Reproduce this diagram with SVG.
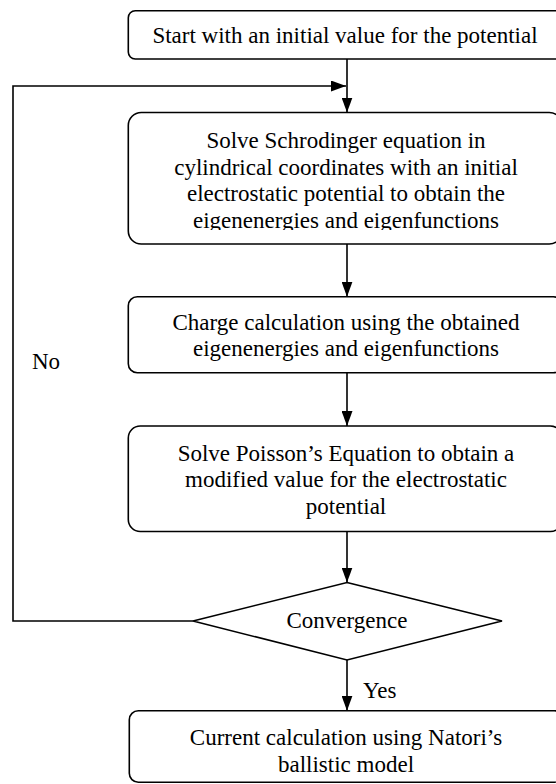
<svg xmlns="http://www.w3.org/2000/svg" width="556" height="784" viewBox="0 0 556 784">
<style>
.box{fill:#fff;stroke:#000;stroke-width:1.6}
.t{font-family:"Liberation Serif","Times New Roman",serif;font-size:23px;fill:#000;text-anchor:middle}
.tl{font-family:"Liberation Serif","Times New Roman",serif;font-size:23px;fill:#000}
.c{fill:none;stroke:#000;stroke-width:1.6}
</style>
<defs>
<marker id="ah" markerWidth="15" markerHeight="11" refX="15" refY="5.5" orient="auto" markerUnits="userSpaceOnUse">
<path d="M0,0 L15,5.5 L0,11 Z" fill="#000"/>
</marker>
<clipPath id="clipS"><rect x="128" y="112" width="440" height="118"/></clipPath>
</defs>
<rect width="556" height="784" fill="#fff"/>
<g id="connectors">
<line class="c" x1="347" y1="59" x2="347" y2="112.5" marker-end="url(#ah)"/>
<polyline class="c" points="193,621 13,621 13,86 346,86" marker-end="url(#ah)"/>
<line class="c" x1="347" y1="244" x2="347" y2="296.7" marker-end="url(#ah)"/>
<line class="c" x1="347" y1="372.7" x2="347" y2="426" marker-end="url(#ah)"/>
<line class="c" x1="347" y1="531.5" x2="347" y2="582.5" marker-end="url(#ah)"/>
<line class="c" x1="347" y1="660" x2="347" y2="710.7" marker-end="url(#ah)"/>
<text class="tl" x="32" y="369">No</text>
<text class="tl" x="363" y="698">Yes</text>
</g>
<g id="start">
<rect class="box" x="128.3" y="10.7" width="440" height="48.3" rx="7"/>
<text class="t" x="345" y="43">Start with an initial value for the potential</text>
</g>
<g id="schrodinger">
<rect class="box" x="128.3" y="112.5" width="434" height="131.5" rx="13"/>
<g clip-path="url(#clipS)">
<text class="t" x="346" y="148">Solve Schrodinger equation in</text>
<text class="t" x="346" y="174.5">cylindrical coordinates with an initial</text>
<text class="t" x="346" y="201">electrostatic potential to obtain the</text>
<text class="t" x="346" y="227.5">eigenenergies and eigenfunctions</text>
</g>
</g>
<g id="charge">
<rect class="box" x="128.3" y="296.7" width="434" height="76" rx="9"/>
<text class="t" x="346" y="329.5">Charge calculation using the obtained</text>
<text class="t" x="346" y="355.5">eigenenergies and eigenfunctions</text>
</g>
<g id="poisson">
<rect class="box" x="128.3" y="426" width="434" height="105.5" rx="12"/>
<text class="t" x="346" y="460.5">Solve Poisson’s Equation to obtain a</text>
<text class="t" x="346" y="487">modified value for the electrostatic</text>
<text class="t" x="346" y="513.5">potential</text>
</g>
<g id="convergence">
<polygon class="box" points="347,582.5 502,621 347,660 193,621"/>
<text class="t" x="347" y="628">Convergence</text>
</g>
<g id="current">
<rect class="box" x="129.3" y="710.7" width="434" height="71.5" rx="9"/>
<text class="t" x="346" y="744.5">Current calculation using Natori’s</text>
<text class="t" x="346" y="771.5">ballistic model</text>
</g>
</svg>
